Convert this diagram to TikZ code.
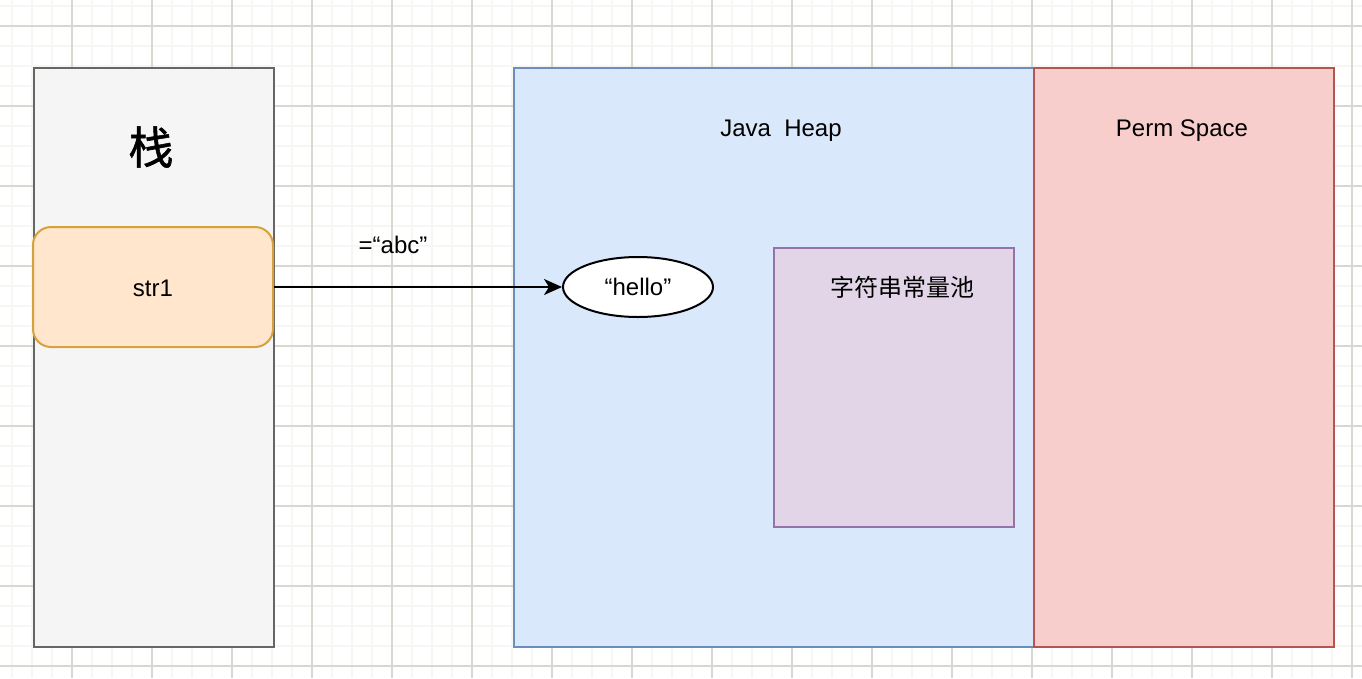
\documentclass[tikz,border=0pt]{standalone}
\usepackage{fontspec}
\setmainfont{Liberation Sans}
\newfontfamily\cjk{Noto Sans CJK SC}
\newfontfamily\cjkb[FakeBold=1.2]{Noto Sans CJK SC}
\usetikzlibrary{arrows.meta,shapes.geometric}
\definecolor{gridminor}{HTML}{F6F6F3}
\definecolor{gridmajor}{HTML}{D8D8D0}
\definecolor{stackfill}{HTML}{F5F5F5}
\definecolor{stackdraw}{HTML}{666666}
\definecolor{heapfill}{HTML}{DAE8FC}
\definecolor{heapdraw}{HTML}{6C8EBF}
\definecolor{permfill}{HTML}{F8CECC}
\definecolor{permdraw}{HTML}{B85450}
\definecolor{poolfill}{HTML}{E1D5E7}
\definecolor{pooldraw}{HTML}{9673A6}
\definecolor{strfill}{HTML}{FFE6CC}
\definecolor{strdraw}{HTML}{D6A23E}
\tikzset{
  area/.style={rectangle, line width=2pt, inner sep=0pt, anchor=north west},
  label24/.style={font=\fontsize{24}{28}\selectfont, inner sep=0pt},
}
\begin{document}
\begin{tikzpicture}[x=1pt,y=-1pt]
\fill[white] (0,0) rectangle (1362,678);
\useasboundingbox (0,0) rectangle (1362,678);
% grid
\foreach \x in {12,32,...,1352} \draw[gridminor, line width=1.5pt] (\x,0) -- (\x,678);
\foreach \y in {6,26,...,666} \draw[gridminor, line width=1.5pt] (0,\y) -- (1362,\y);
\foreach \x in {72,152,...,1352} \draw[gridmajor, line width=1.2pt] (\x,0) -- (\x,678);
\foreach \y in {26,106,...,666} \draw[gridmajor, line width=1.2pt] (0,\y) -- (1362,\y);
% areas
\node[area, draw=stackdraw, fill=stackfill, minimum width=240pt, minimum height=579pt] (stack) at (33,67) {};
\node[area, draw=heapdraw, fill=heapfill, minimum width=520pt, minimum height=579pt] (heap) at (513,67) {};
\node[area, draw=permdraw, fill=permfill, minimum width=300pt, minimum height=579pt] (perm) at (1033,67) {};
\node[area, draw=pooldraw, fill=poolfill, minimum width=240pt, minimum height=279pt] (pool) at (773,247) {};
% titles
\node[font=\cjkb\fontsize{45}{48}\selectfont, inner sep=0pt] (stacktitle) at (151,147) {栈};
\node[label24, anchor=base] (heaptitle) at (781,136) {Java\ \ Heap};
\node[label24, anchor=base] (permtitle) at (1182,136) {Perm Space};
\node[label24, font=\cjk\fontsize{24}{28}\selectfont] (pooltitle) at (902,287) {字符串常量池};
% str1
\node[rectangle, rounded corners=18pt, draw=strdraw, fill=strfill, line width=2pt, minimum width=240pt, minimum height=120pt, inner sep=0pt] (str1) at (153,287) {};
\node[label24, anchor=base] (str1text) at (str1.center |- 0,296) {str1};
% hello
\node[ellipse, draw=black, fill=white, line width=2pt, minimum width=150pt, minimum height=60pt, inner sep=0pt] (hello) at (638,287) {};
\node[label24, anchor=base] (hellotext) at (hello.center |- 0,295) {“hello”};
% arrow
\draw[line width=2pt, -{Stealth[length=18pt,width=16pt,inset=5pt]}] (str1.east) -- (hello.west);
\node[label24, anchor=base] (abc) at (393,253) {=“abc”};
\end{tikzpicture}
\end{document}
